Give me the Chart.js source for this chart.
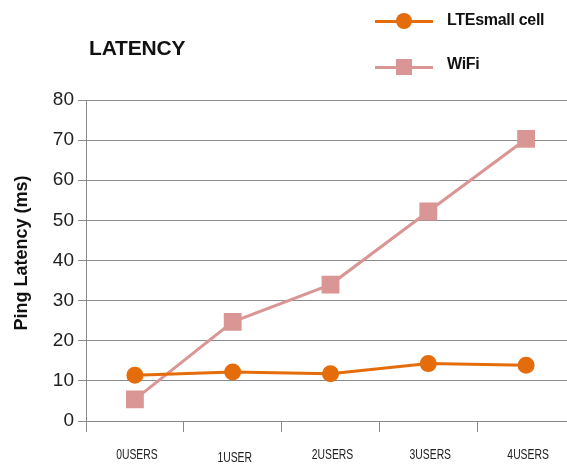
<!DOCTYPE html>
<html>
<head>
<meta charset="utf-8">
<script src="https://cdn.jsdelivr.net/npm/chart.js@4/dist/chart.umd.min.js"></script>
<style>
  html, body { margin: 0; padding: 0; background: #fff; overflow: hidden; }
  #wrap { position: relative; width: 575px; height: 465px; }
  #title { position: absolute; left: 89px; top: 36px; font: bold 21px "Liberation Sans", Arial, sans-serif; color: #111; letter-spacing: -0.2px; }
  .leg { position: absolute; left: 375px; width: 58px; height: 3px; }
  .leg .mk { position: absolute; }
  .legtxt { position: absolute; left: 447px; font: bold 16px "Liberation Sans", Arial, sans-serif; color: #111; letter-spacing: -0.3px; }
</style>
</head>
<body>
<div id="wrap">
  <canvas id="chart" width="575" height="465"></canvas>
  <div id="title">LATENCY</div>
  <div class="leg" style="top:20px;background:#e46c0a;"><div class="mk" style="left:21px;top:-7px;width:16px;height:16px;border-radius:50%;background:#e46c0a;"></div></div>
  <div class="legtxt" style="top:11px;">LTEsmall cell</div>
  <div class="leg" style="top:66px;background:#d99694;"><div class="mk" style="left:21px;top:-7px;width:16px;height:16px;background:#d99694;"></div></div>
  <div class="legtxt" style="top:55px;">WiFi</div>
</div>
<script>
// Data
const categories = ['0USERS', '1USER', '2USERS', '3USERS', '4USERS'];
const lteValues = [11.4, 12.2, 11.8, 14.3, 13.9];
const wifiValues = [5.4, 24.7, 34.0, 52.2, 70.3];
const yTitle = 'Ping Latency (ms)';

// category labels are squeezed and the y title sits a bit high in the original
const customText = {
    id: 'customText',
    afterDraw(chart) {
        const c = chart.ctx;
        const xs = chart.scales.x;
        c.save();
        c.fillStyle = '#222';
        c.font = '14px "Liberation Sans", Arial';
        c.textAlign = 'center';
        c.textBaseline = 'middle';
        categories.forEach((label, i) => {
            const x = xs.getPixelForValue(i) + 2;
            const y = label === '1USER' ? 458 : 455;
            c.save();
            c.translate(x, y);
            c.scale(0.74, 1);
            c.fillText(label, 0, 0);
            c.restore();
        });
        c.translate(22, 253);
        c.rotate(-Math.PI / 2);
        c.fillStyle = '#111';
        c.font = 'bold 18px "Liberation Sans", Arial';
        c.fillText(yTitle, 0, 0);
        c.restore();
    }
};

const ctx = document.getElementById('chart').getContext('2d');
const chart = new Chart(ctx, {
    type: 'line',
    data: {
        labels: categories,
        datasets: [{
            label: 'LTEsmall cell',
            data: lteValues,
            borderColor: '#e46c0a',
            backgroundColor: '#e46c0a',
            borderWidth: 3,
            pointStyle: 'circle',
            pointRadius: 7,
            tension: 0
        }, {
            label: 'WiFi',
            data: wifiValues,
            borderColor: '#d99694',
            backgroundColor: '#d99694',
            borderWidth: 3,
            pointStyle: 'rect',
            pointRadius: 10.5,
            tension: 0
        }]
    },
    options: {
        responsive: false,
        animation: false,
        layout: { autoPadding: false, padding: { top: 100, left: 0, right: 0, bottom: 0 } },
        plugins: {
            legend: { display: false },
            tooltip: { enabled: false }
        },
        scales: {
            x: {
                offset: true,
                grid: { display: true, drawOnChartArea: false, drawTicks: true, tickLength: 11, color: '#888', offset: true },
                border: { color: '#888', width: 1 },
                ticks: { color: 'rgba(0,0,0,0)', padding: 16 },
                afterFit: function(scale) { scale.height = 44; }
            },
            y: {
                min: 0,
                max: 80,
                grid: { display: true, drawOnChartArea: true, drawTicks: true, tickLength: 8, color: '#8c8c8c' },
                border: { color: '#888', width: 1 },
                ticks: {
                    stepSize: 10,
                    color: '#222',
                    padding: 4,
                    font: { family: '"Liberation Sans", Arial', size: 19 }
                },
                afterFit: function(scale) { scale.width = 86; }
            }
        }
    },
    plugins: [customText]
});
</script>
</body>
</html>
